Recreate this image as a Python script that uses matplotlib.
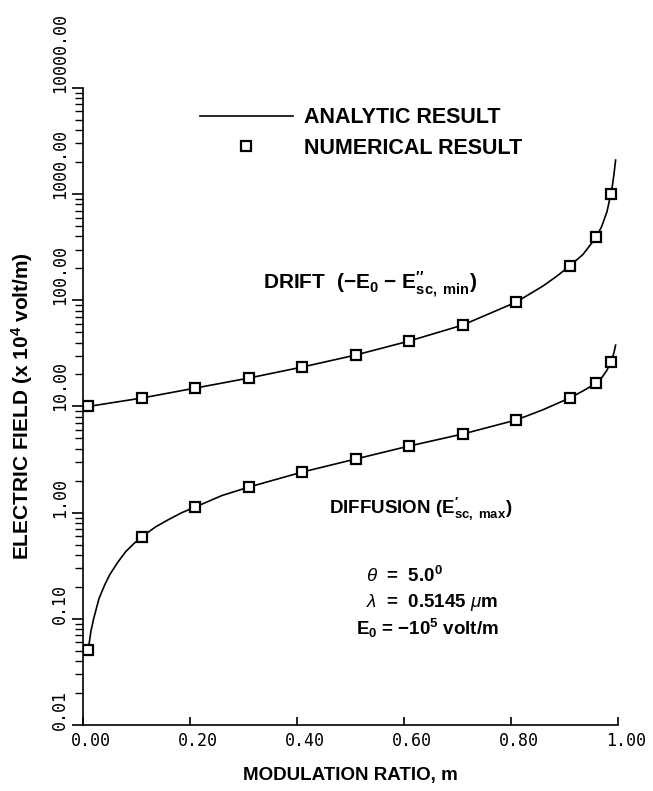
import matplotlib.pyplot as plt
from matplotlib.ticker import FixedLocator, LogLocator, NullFormatter
from matplotlib.transforms import ScaledTranslation

# Wartości (pole w jednostkach 10^4 V/m)
m_num = [0.01, 0.11, 0.21, 0.31, 0.41, 0.51, 0.61, 0.71, 0.81, 0.91, 0.96, 0.987]
drift_num = [10.0, 12.0, 14.9, 18.5, 23.5, 30.5, 41.3, 58.4, 96, 210, 394, 1000]
diff_num = [0.051, 0.59, 1.13, 1.74, 2.41, 3.20, 4.24, 5.50, 7.45, 12.0, 16.6, 26.2]

# Krzywe analityczne
m_drift = [0.01, 0.11, 0.21, 0.31, 0.41, 0.51, 0.61, 0.71, 0.81, 0.86, 0.885, 0.91,
           0.935, 0.96, 0.97, 0.98, 0.987, 0.99, 0.993, 0.996]
drift_line = [10.0, 12.0, 14.9, 18.5, 23.5, 30.5, 41.3, 58.4, 96, 136, 167, 210,
              270, 394, 496, 686, 1000, 1200, 1540, 2090]
m_diff = [0.01, 0.015, 0.02, 0.03, 0.04, 0.05, 0.065, 0.08, 0.095, 0.11, 0.135,
          0.16, 0.185, 0.21, 0.26, 0.31, 0.41, 0.51, 0.61, 0.71, 0.81, 0.86, 0.91,
          0.935, 0.96, 0.97, 0.98, 0.987, 0.99, 0.993, 0.996]
diff_line = [0.051, 0.077, 0.10, 0.155, 0.205, 0.26, 0.34, 0.43, 0.51, 0.59, 0.73,
             0.86, 1.0, 1.13, 1.45, 1.74, 2.41, 3.20, 4.24, 5.50, 7.45, 9.3, 12.0,
             14.0, 16.6, 18.6, 22.0, 26.2, 28.6, 32.2, 37.8]

x_ticks = [0.0, 0.2, 0.4, 0.6, 0.8, 1.0]
y_ticks = [0.01, 0.1, 1, 10, 100, 1000, 10000]

plt.rcParams.update({
    'font.family': ['Liberation Sans', 'DejaVu Sans'],
    'font.weight': 'bold',
    'mathtext.fontset': 'custom',
    'mathtext.rm': 'Liberation Sans:bold',
    'mathtext.it': 'Liberation Sans:italic:normal',
    'mathtext.bf': 'Liberation Sans:bold',
})

fig = plt.figure(figsize=(6.53, 7.91), dpi=100)
ax = fig.add_axes([0.127, 0.0834, 0.819, 0.8055])

ax.plot(m_drift, drift_line, color="black", lw=1.2, label="ANALYTIC RESULT", zorder=1)
ax.plot(m_diff, diff_line, color="black", lw=1.2, zorder=1)
ax.plot(m_num, drift_num, ls="none", marker="s", ms=6.5, mfc="white", mec="black",
        mew=1.6, label="NUMERICAL RESULT", zorder=2)
ax.plot(m_num, diff_num, ls="none", marker="s", ms=6.5, mfc="white", mec="black",
        mew=1.6, zorder=2)

ax.set_yscale("log")
ax.set_xlim(0, 1)
ax.set_ylim(0.01, 10000)

ax.spines["top"].set_visible(False)
ax.spines["right"].set_visible(False)
ax.spines["left"].set_linewidth(1.2)
ax.spines["bottom"].set_linewidth(1.2)

ax.xaxis.set_major_locator(FixedLocator(x_ticks))
ax.set_xticklabels(["%.2f" % v for v in x_ticks])
ax.tick_params(axis="x", direction="in", length=6, width=1.2, pad=5)
ax.yaxis.set_major_locator(FixedLocator(y_ticks))
ax.yaxis.set_minor_locator(LogLocator(base=10, subs=range(2, 10), numticks=20))
ax.yaxis.set_minor_formatter(NullFormatter())
ax.set_yticklabels(["%.2f" % v for v in y_ticks])
ax.tick_params(axis="y", which="major", direction="out", length=8, width=1.2, pad=2)
ax.tick_params(axis="y", which="minor", direction="out", length=6, width=1.0)

for lab in ax.get_xticklabels():
    lab.set_fontfamily("DejaVu Sans Mono")
    lab.set_fontweight("normal")
    lab.set_fontsize(12)
    lab.set_transform(lab.get_transform() + ScaledTranslation(8 / 100, 0, fig.dpi_scale_trans))
for lab in ax.get_yticklabels():
    lab.set_fontfamily("DejaVu Sans Mono")
    lab.set_fontweight("normal")
    lab.set_fontsize(12)
    lab.set_rotation(90)
    lab.set_va("bottom")
    lab.set_transform(lab.get_transform() + ScaledTranslation(0, -5 / 100, fig.dpi_scale_trans))

# Legenda bez ramki
ax.legend(loc="center left", bbox_to_anchor=(0.219, 0.929), frameon=False, fontsize=15.5,
          handlelength=4.3, handletextpad=0.55, labelspacing=0.45, borderpad=0,
          borderaxespad=0)

# Opisy krzywych
ax.text(0.336, 125, r"DRIFT  ($-$E$_\mathrm{0}$ $-$ E$^{\prime\prime}_{\mathrm{sc,\ min}}$)",
        fontsize=15, va="baseline")
ax.text(0.46, 1.0, r"DIFFUSION (E$^{\prime}_{\mathrm{sc,\ max}}$)", fontsize=13.5, va="baseline")

# Parametry obliczeń
ax.text(0.53, 0.22, r"$\theta$  =  5.0$^\mathrm{0}$", fontsize=13.5, va="baseline")
ax.text(0.53, 0.128, r"$\lambda$  =  0.5145 $\mu$m", fontsize=13.5, va="baseline")
ax.text(0.51, 0.071, r"E$_\mathrm{0}$ = $-$10$^\mathrm{5}$ volt/m", fontsize=13.5, va="baseline")

fig.text(0.034, 0.487, r"ELECTRIC FIELD (x 10$^\mathbf{4}$ volt/m)", rotation=90,
         ha="center", va="center", fontsize=15)
fig.text(0.536, 0.02, "MODULATION RATIO, m", ha="center", va="center", fontsize=13.5)

fig.savefig("out.png", dpi=100)
